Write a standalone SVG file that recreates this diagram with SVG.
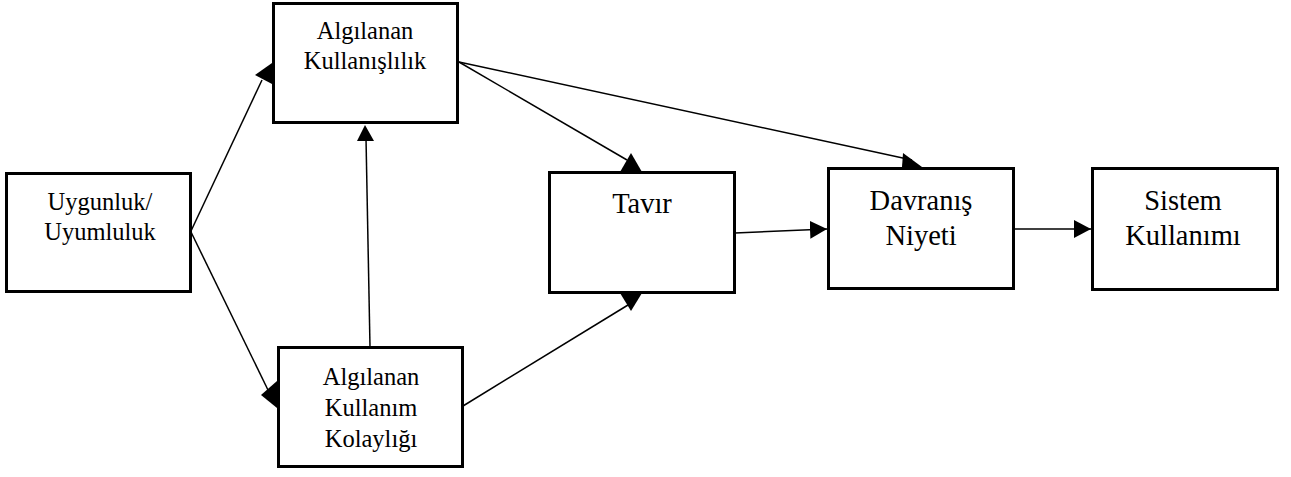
<svg xmlns="http://www.w3.org/2000/svg" width="1291" height="477" viewBox="0 0 1291 477">
<style>
.box{fill:#fff;stroke:#000;stroke-width:3}
.t{font-family:"Liberation Serif","Times New Roman",serif;fill:#000;text-anchor:middle}
.s{font-size:24.5px}
.l{font-size:28.5px}
.c{stroke:#000;stroke-width:1.5;fill:none}
.m{marker-end:url(#ah)}
.h{fill:#000;stroke:none}
</style>
<defs>
<marker id="ah" markerUnits="userSpaceOnUse" markerWidth="18" markerHeight="18" refX="17" refY="9" orient="auto">
<path d="M0,0 L17,9 L0,18 z" fill="#000"/>
</marker>
</defs>
<rect width="1291" height="477" fill="#fff"/>
<g id="connectors">
<line class="c" x1="191" y1="231" x2="262" y2="80"/>
<polygon class="h" points="272,63 255,75 272,84"/>
<line class="c" x1="191" y1="232" x2="268" y2="390"/>
<polygon class="h" points="277,381 261,395 277,408"/>
<line class="c" x1="370" y1="347" x2="366" y2="138"/>
<polygon class="h" points="365,125 357,141 374,141"/>
<line class="c" x1="459" y1="62" x2="627" y2="160"/>
<polygon class="h" points="620,172 631,153 642,172"/>
<line class="c" x1="459" y1="62" x2="912" y2="160"/>
<polygon class="h" points="903,153 922,167 902,167"/>
<line class="c" x1="463" y1="406" x2="628" y2="305"/>
<polygon class="h" points="620,293 631,311 642,293"/>
<line class="c m" x1="735" y1="233" x2="827" y2="229"/>
<line class="c m" x1="1014" y1="229" x2="1091" y2="229"/>
</g>
<g id="uygunluk">
<rect class="box" x="6.5" y="173.5" width="184" height="118"/>
<text class="t s" x="100" y="210">Uygunluk/</text>
<text class="t s" x="100" y="240">Uyumluluk</text>
</g>
<g id="algilanan-kullanislilik">
<rect class="box" x="273.5" y="3.5" width="184" height="119"/>
<text class="t s" x="365" y="39">Algılanan</text>
<text class="t s" x="365" y="69">Kullanışlılık</text>
</g>
<g id="algilanan-kullanim-kolayligi">
<rect class="box" x="278.5" y="347.5" width="184" height="119"/>
<text class="t s" x="371" y="385">Algılanan</text>
<text class="t s" x="371" y="416">Kullanım</text>
<text class="t s" x="371" y="447">Kolaylığı</text>
</g>
<g id="tavir">
<rect class="box" x="549.5" y="172.5" width="185" height="120"/>
<text class="t l" x="642" y="213">Tavır</text>
</g>
<g id="davranis-niyeti">
<rect class="box" x="828.5" y="168.5" width="185" height="120"/>
<text class="t l" x="921" y="210">Davranış</text>
<text class="t l" x="921" y="245">Niyeti</text>
</g>
<g id="sistem-kullanimi">
<rect class="box" x="1092.5" y="168.5" width="185" height="121"/>
<text class="t l" x="1183" y="210">Sistem</text>
<text class="t l" x="1183" y="245">Kullanımı</text>
</g>
</svg>
